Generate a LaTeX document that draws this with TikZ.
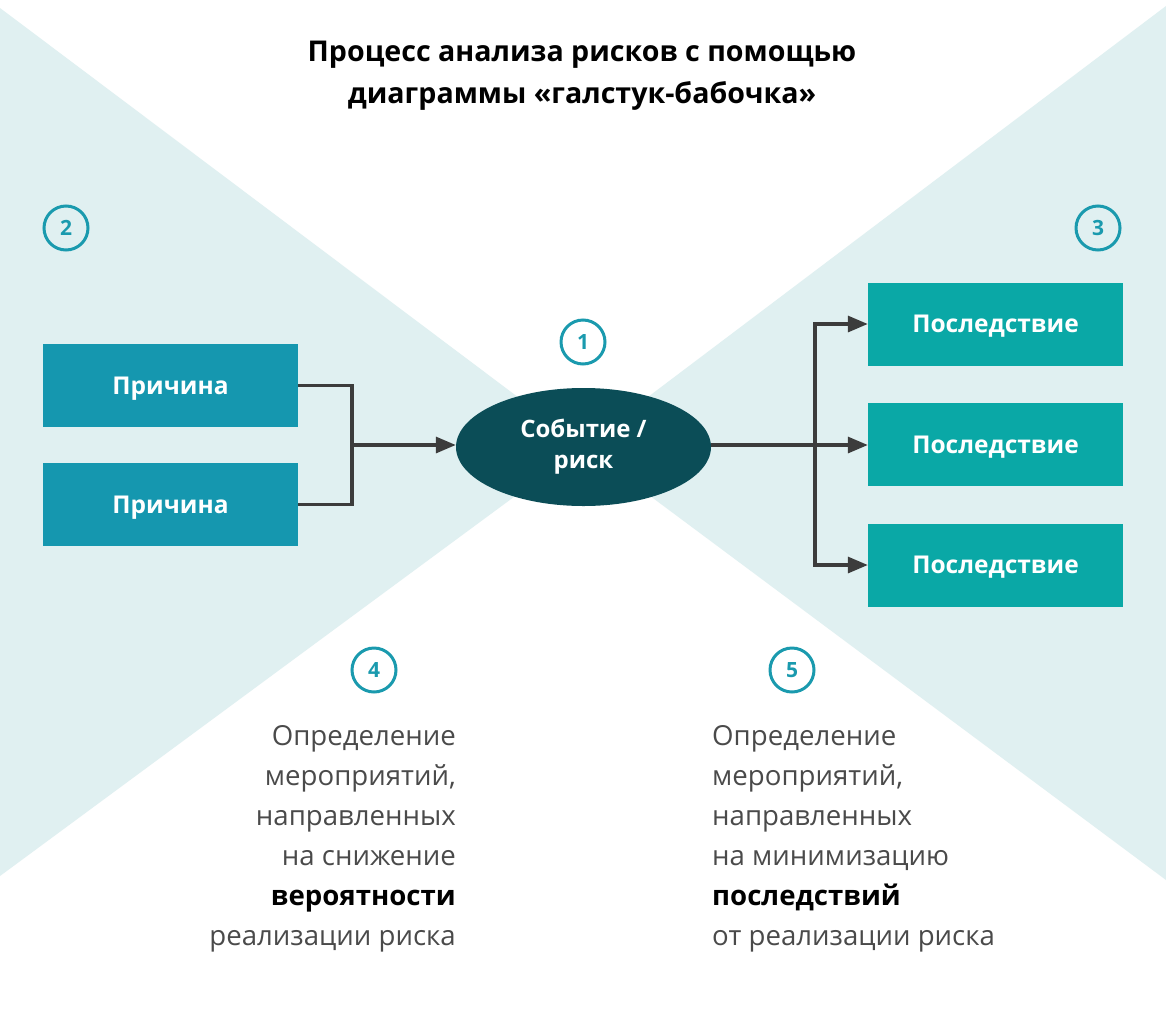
\documentclass[tikz,border=0pt]{standalone}
\usepackage{fontspec}
\setmainfont{Open Sans}
\usetikzlibrary{arrows.meta,shapes.geometric}
\definecolor{bgtri}{HTML}{E0F0F1}
\definecolor{causec}{HTML}{1597AF}
\definecolor{consc}{HTML}{0AA8A6}
\definecolor{eventc}{HTML}{0B4D57}
\definecolor{numc}{HTML}{1A9AAE}
\definecolor{linec}{HTML}{3C3C3C}
\definecolor{txtc}{HTML}{4A4A4A}
\begin{document}
\begin{tikzpicture}[x=1pt,y=-1pt,
  box/.style={rectangle, minimum width=255pt, minimum height=83pt, inner sep=0pt,
    text height=17.5pt, text depth=0pt,
    text=white, font=\fontsize{24.5}{28}\selectfont\bfseries},
  causebox/.style={box, fill=causec},
  consbox/.style={box, fill=consc},
  eventnode/.style={ellipse, fill=eventc, minimum width=255pt, minimum height=118pt,
    inner sep=0pt, text=white, align=center, font=\fontsize{24}{31}\selectfont\bfseries},
  numcirc/.style={circle, draw=numc, line width=3pt, minimum size=44pt, inner sep=0pt,
    text=numc, font=\fontsize{21}{24}\selectfont\bfseries},
  conn/.style={draw=linec, line width=3.2pt},
  arr/.style={conn, -{Triangle[length=20pt,width=16pt]}},
  bodytext/.style={inner sep=0pt, text=txtc, font=\fontsize{27.6}{40}\selectfont}
]
\useasboundingbox (0,0) rectangle (1166,1009);
\fill[white] (0,0) rectangle (1166,1009);
\fill[bgtri] (0,8) -- (583,446) -- (0,876) -- cycle;
\fill[bgtri] (1166,6) -- (583,446) -- (1166,880) -- cycle;

\node[align=center, text=black, font=\fontsize{28.6}{42}\selectfont\bfseries] (title) at (582,76)
  {Процесс анализа рисков с помощью\\диаграммы «галстук-бабочка»};

\node[causebox] (c1) at (170.5,385.5) {Причина};
\node[causebox] (c2) at (170.5,504.5) {Причина};
\node[eventnode] (ev) at (583.5,447) {Событие /\\риск};
\node[consbox] (k1) at (995.5,324) {Последствие};
\node[consbox] (k2) at (995.5,444.5) {Последствие};
\node[consbox] (k3) at (995.5,565) {Последствие};

\node[numcirc] (n1) at (583,342) {1};
\node[numcirc] (n2) at (66,228) {2};
\node[numcirc] (n3) at (1098,228) {3};
\node[numcirc] (n4) at (374,670) {4};
\node[numcirc] (n5) at (792,670) {5};

\coordinate (jl) at (352,445);
\coordinate (jr) at (815,445);
\draw[conn] (c1.east) -| (jl) |- (c2.east);
\draw[arr] (jl) -- (jl -| ev.west);
\draw[conn] (jr -| ev.east) -- (jr);
\draw[arr] (jr) |- (k1.west);
\draw[arr] (jr) -- (jr -| k2.west);
\draw[arr] (jr) |- (k3.west);

\node[bodytext, align=right, anchor=north east] (t4) at (456,725)
  {Определение\\мероприятий,\\направленных\\на снижение\\{\color{black}\bfseries вероятности}\\реализации риска};
\node[bodytext, align=left, anchor=north west] (t5) at (712,725)
  {Определение\\мероприятий,\\направленных\\на минимизацию\\{\color{black}\bfseries последствий}\\от реализации риска};
\end{tikzpicture}
\end{document}
